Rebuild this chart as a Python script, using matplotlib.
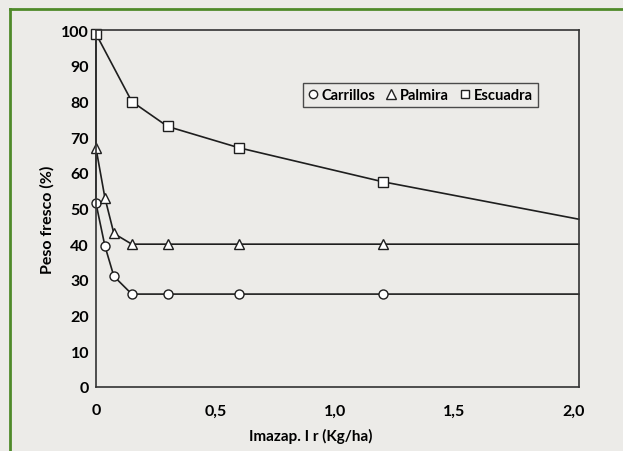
import matplotlib.pyplot as plt
from matplotlib.lines import Line2D

# dose (kg/ha) and fresh weight (%)
dose_cp = [0, 0, 0.0375, 0.075, 0.15, 0.3, 0.6, 1.2, 2.02]
carrillos = [100, 51.5, 39.5, 31, 26, 26, 26, 26, 26]
palmira = [100, 67, 53, 43, 40, 40, 40, 40, 40]
dose_e = [0, 0.15, 0.3, 0.6, 1.2, 2.02]
escuadra = [99, 80, 73, 67, 57.5, 47]

xticks = [0, 0.5, 1.0, 1.5, 2.0]
xticklabels = ["0", "0,5", "1,0", "1,5", "2,0"]
yticks = list(range(0, 101, 10))

bg = "#ecebe8"
plt.rcParams['font.family'] = ['Lato', 'DejaVu Sans']

fig = plt.figure(figsize=(6.23, 4.52), dpi=100, facecolor=bg)
ax = fig.add_axes([0.154, 0.142, 0.775, 0.789])
ax.set_facecolor(bg)

mk = dict(color="#1e1e1e", lw=1.2, markerfacecolor="white", markeredgecolor="#1e1e1e",
          markersize=6.5, markeredgewidth=1.0, clip_on=False)
ax.plot(dose_cp, carrillos, marker="o", markevery=list(range(1, 8)), **mk)
ax.plot(dose_cp, palmira, marker="^", markevery=list(range(1, 8)), **mk)
ax.plot(dose_e, escuadra, marker="s", markevery=list(range(0, 5)), **mk)

ax.set_xlim(0, 2.02)
ax.set_ylim(0, 100)
ax.set_xticks(xticks)
ax.set_xticklabels(xticklabels)
ax.set_yticks(yticks)
ax.tick_params(length=0, labelsize=11.5)
ax.tick_params(axis="x", pad=12)
ax.tick_params(axis="y", pad=5)
for t in ax.get_xticklabels() + ax.get_yticklabels():
    t.set_fontweight("bold")
for s in ax.spines.values():
    s.set_color("#333333")
    s.set_linewidth(1.2)

ax.set_ylabel("Peso fresco (%)", fontsize=11.5, fontweight="bold")
ax.yaxis.set_label_coords(-0.085, 0.47)
ax.set_xlabel("Imazap. I r (Kg/ha)", fontsize=11, fontweight="bold")
ax.xaxis.set_label_coords(0.445, -0.115)

handles = [
    Line2D([], [], ls="none", marker="o", markersize=6, markerfacecolor="white",
           markeredgecolor="#222222", label="Carrillos"),
    Line2D([], [], ls="none", marker="^", markersize=7, markerfacecolor="white",
           markeredgecolor="#222222", label="Palmira"),
    Line2D([], [], ls="none", marker="s", markersize=6, markerfacecolor="white",
           markeredgecolor="#222222", label="Escuadra"),
]
leg = ax.legend(handles=handles, ncol=3, loc="upper left", bbox_to_anchor=(0.429, 0.852),
                frameon=True, fancybox=False, handlelength=0.6, handletextpad=0.3,
                columnspacing=0.8, borderpad=0.35, borderaxespad=0,
                prop={"weight": "bold", "size": 10.5})
leg.get_frame().set_edgecolor("#222222")
leg.get_frame().set_facecolor(bg)
leg.get_frame().set_linewidth(1.0)

# green page border of the scan
fig.add_artist(Line2D([0.016, 0.016], [0.0, 0.978], color="#4f8a2a", lw=2, transform=fig.transFigure))
fig.add_artist(Line2D([0.016, 1.0], [0.978, 0.978], color="#4f8a2a", lw=2, transform=fig.transFigure))

fig.savefig("out.png", dpi=100, facecolor=bg)
